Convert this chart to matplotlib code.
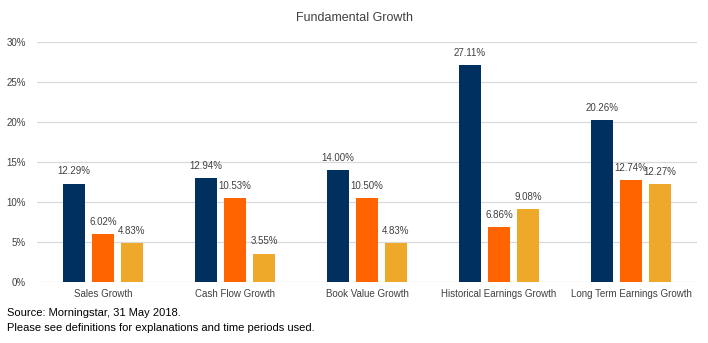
import numpy as np
import matplotlib.pyplot as plt

plt.rcParams['font.family'] = ['Liberation Sans', 'DejaVu Sans']

categories = ['Sales Growth', 'Cash Flow Growth', 'Book Value Growth',
              'Historical Earnings Growth', 'Long Term Earnings Growth']
series_a = [12.29, 12.94, 14.00, 27.11, 20.26]
series_b = [6.02, 10.53, 10.50, 6.86, 12.74]
series_c = [4.83, 3.55, 4.83, 9.08, 12.27]
colors = ['#00305F', '#FF6400', '#EEA92B']

fig = plt.figure(figsize=(7.08, 3.43), dpi=100)
ax = fig.add_axes([37 / 708, 1 - 282 / 343, 660 / 708, 240 / 343])

x = np.arange(len(categories))
w = 0.167
step = 0.22
for i, (vals, c) in enumerate(zip([series_a, series_b, series_c], colors)):
    pos = x + (i - 1) * step
    ax.bar(pos, vals, width=w, color=c, zorder=3)
    for p, v in zip(pos, vals):
        ax.text(p, v + 0.9, f'{v:.2f}%', ha='center', va='bottom',
                fontsize=7, color='#404040')

ax.set_xlim(-0.5, len(categories) - 0.5)
ax.set_ylim(0, 30)
ax.set_yticks(range(0, 31, 5))
ax.set_yticklabels([f'{t}%' for t in range(0, 31, 5)])
ax.set_xticks(x)
ax.set_xticklabels(categories)
ax.tick_params(axis='both', length=0, labelsize=7, colors='#404040')
ax.tick_params(axis='y', pad=8)
ax.tick_params(axis='x', pad=5)
ax.grid(axis='y', color='#D9D9D9', linewidth=0.9, zorder=0)
for s in ax.spines.values():
    s.set_visible(False)

fig.text(355 / 708, 1 - 18 / 343, 'Fundamental Growth', ha='center', va='center',
         fontsize=9, color='#404040')
fig.text(7 / 708, 1 - 313 / 343, 'Source: Morningstar, 31 May 2018.',
         ha='left', va='center', fontsize=8, color='#000000')
fig.text(7 / 708, 1 - 328 / 343,
         'Please see definitions for explanations and time periods used.',
         ha='left', va='center', fontsize=8, color='#000000')

fig.savefig('out.png', dpi=100)
